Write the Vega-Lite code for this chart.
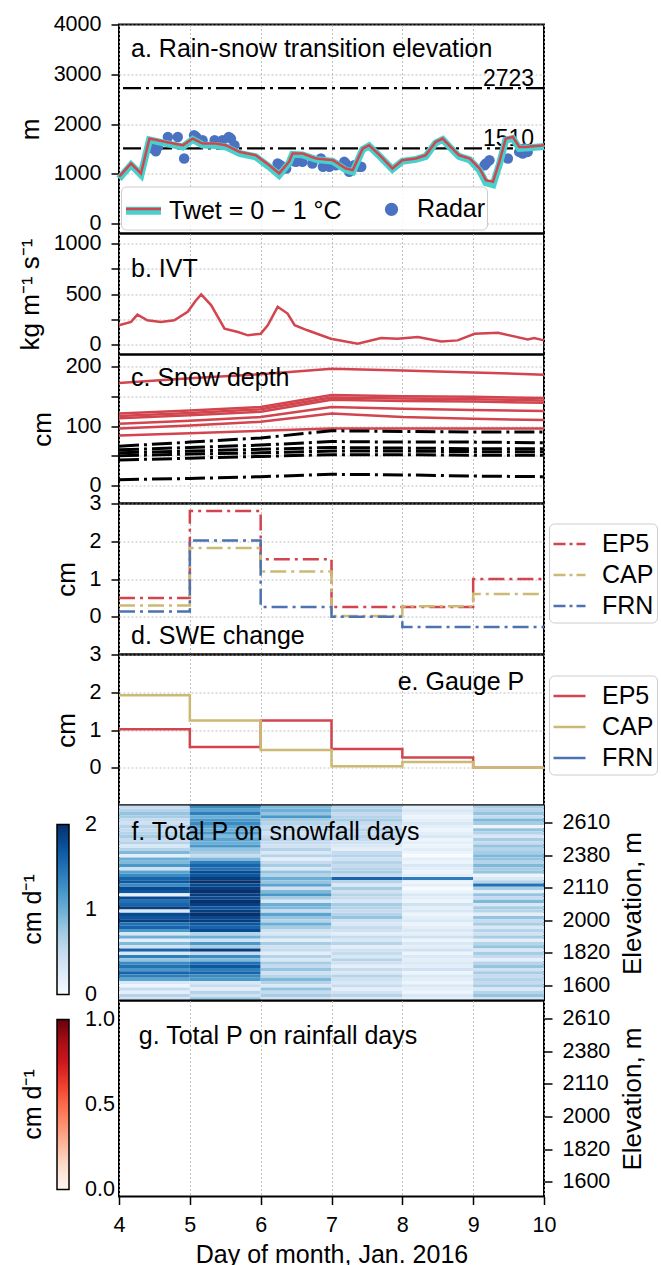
{
  "$schema": "https://vega.github.io/schema/vega-lite/v6.json",
  "background": "white",
  "padding": {"left": 16, "top": 12.5, "right": 0, "bottom": 5},
  "spacing": 0,
  "bounds": "flush",
  "config": {
    "font": "Liberation Sans",
    "view": {"stroke": "black", "strokeWidth": 2},
    "axis": {
      "labelFont": "Liberation Sans", "titleFont": "Liberation Sans",
      "labelFontSize": 21.5, "titleFontSize": 25, "titleFontWeight": "normal",
      "labelColor": "black", "titleColor": "black", "tickColor": "black",
      "tickSize": 8, "tickWidth": 1.5, "labelPadding": 10, "titlePadding": 10,
      "domain": false, "gridColor": "#b0b0b0", "gridDash": [2, 2], "gridWidth": 0.8
    },
    "axisY": {"titleFontSize": 26},
    "legend": {
      "labelFont": "Liberation Sans", "titleFont": "Liberation Sans",
      "labelFontSize": 25, "labelColor": "black", "labelLimit": 400,
      "titleFontSize": 25, "titleFontWeight": "normal", "titleColor": "black"
    },
    "text": {"font": "Liberation Sans", "fontSize": 25, "color": "black"}
  },
  "vconcat": [
    {
      "width": 425, "height": 209,
      "layer": [
        {
          "data": {"values": [{"z": 2723}, {"z": 1510}]},
          "layer": [
            {
              "mark": {"type": "rule", "color": "black", "strokeWidth": 2.2, "strokeDash": [18, 5, 3, 5]},
              "encoding": {
                "y": {"field": "z", "type": "quantitative", "scale": {"domain": [-200, 4000], "nice": false, "zero": false}, "axis": {"values": [0, 1000, 2000, 3000, 4000], "format": "d", "title": "m", "grid": true}}
              }
            },
            {
              "mark": {"type": "text", "align": "right", "baseline": "alphabetic", "dy": -2, "fontSize": 23},
              "encoding": {
                "x": {"datum": 9.86, "type": "quantitative", "scale": {"domain": [4, 10], "nice": false, "zero": false}, "axis": {"values": [4, 5, 6, 7, 8, 9, 10], "labels": false, "ticks": false, "title": null, "grid": true}},
                "y": {"field": "z", "type": "quantitative", "scale": {"domain": [-200, 4000], "nice": false, "zero": false}, "axis": {"values": [0, 1000, 2000, 3000, 4000], "format": "d", "title": "m", "grid": true}},
                "text": {"field": "z", "type": "nominal"}
              }
            }
          ]
        },
        {
          "data": {"values": [
            {"day": 4.48, "z": 1507}, {"day": 4.52, "z": 1453}, {"day": 4.55, "z": 1540}, {"day": 4.69, "z": 1740},
            {"day": 4.83, "z": 1740}, {"day": 4.92, "z": 1307}, {"day": 5.06, "z": 1773}, {"day": 5.09, "z": 1740},
            {"day": 5.18, "z": 1673}, {"day": 5.35, "z": 1673}, {"day": 5.37, "z": 1607}, {"day": 5.46, "z": 1673},
            {"day": 5.55, "z": 1740}, {"day": 5.58, "z": 1707}, {"day": 5.63, "z": 1573}, {"day": 6.24, "z": 1207},
            {"day": 6.28, "z": 1173}, {"day": 6.36, "z": 1107}, {"day": 6.47, "z": 1253}, {"day": 6.50, "z": 1240},
            {"day": 6.59, "z": 1240}, {"day": 6.73, "z": 1207}, {"day": 6.85, "z": 1307}, {"day": 6.88, "z": 1140},
            {"day": 6.97, "z": 1140}, {"day": 7.06, "z": 1173}, {"day": 7.18, "z": 1240}, {"day": 7.20, "z": 1207},
            {"day": 7.25, "z": 1040}, {"day": 7.32, "z": 1173}, {"day": 7.39, "z": 1140}, {"day": 7.42, "z": 1140},
            {"day": 9.16, "z": 1173}, {"day": 9.18, "z": 1207}, {"day": 9.23, "z": 1273}, {"day": 9.49, "z": 1307},
            {"day": 9.65, "z": 1440}, {"day": 9.70, "z": 1407}, {"day": 9.72, "z": 1507}, {"day": 9.77, "z": 1440}
          ]},
          "mark": {"type": "circle", "size": 110, "opacity": 1},
          "encoding": {
            "x": {"field": "day", "type": "quantitative", "scale": {"domain": [4, 10], "nice": false, "zero": false}, "axis": {"values": [4, 5, 6, 7, 8, 9, 10], "labels": false, "ticks": false, "title": null, "grid": true}},
            "y": {"field": "z", "type": "quantitative", "scale": {"domain": [-200, 4000], "nice": false, "zero": false}, "axis": {"values": [0, 1000, 2000, 3000, 4000], "format": "d", "title": "m", "grid": true}},
            "color": {"datum": "Radar"}
          }
        },
        {
          "data": {"values": [
            {"day": 4.00, "teal": 900, "red": 940}, {"day": 4.17, "teal": 1180, "red": 1207}, {"day": 4.31, "teal": 980, "red": 1007},
            {"day": 4.43, "teal": 1680, "red": 1707}, {"day": 4.66, "teal": 1610, "red": 1640}, {"day": 4.90, "teal": 1540, "red": 1573},
            {"day": 5.04, "teal": 1690, "red": 1707}, {"day": 5.18, "teal": 1580, "red": 1607}, {"day": 5.37, "teal": 1570, "red": 1607},
            {"day": 5.51, "teal": 1540, "red": 1573}, {"day": 5.70, "teal": 1410, "red": 1440}, {"day": 5.93, "teal": 1340, "red": 1373},
            {"day": 6.12, "teal": 1140, "red": 1173}, {"day": 6.26, "teal": 970, "red": 1007}, {"day": 6.40, "teal": 1220, "red": 1240},
            {"day": 6.45, "teal": 1390, "red": 1407}, {"day": 6.59, "teal": 1380, "red": 1407}, {"day": 6.78, "teal": 1290, "red": 1307},
            {"day": 7.02, "teal": 1250, "red": 1273}, {"day": 7.20, "teal": 1080, "red": 1107}, {"day": 7.30, "teal": 1040, "red": 1073},
            {"day": 7.44, "teal": 1490, "red": 1507}, {"day": 7.53, "teal": 1560, "red": 1573}, {"day": 7.68, "teal": 1350, "red": 1373},
            {"day": 7.86, "teal": 1090, "red": 1107}, {"day": 8.00, "teal": 1250, "red": 1273}, {"day": 8.19, "teal": 1290, "red": 1307},
            {"day": 8.33, "teal": 1350, "red": 1373}, {"day": 8.47, "teal": 1620, "red": 1640}, {"day": 8.57, "teal": 1690, "red": 1707},
            {"day": 8.66, "teal": 1550, "red": 1573}, {"day": 8.80, "teal": 1350, "red": 1373}, {"day": 8.95, "teal": 1280, "red": 1307},
            {"day": 9.09, "teal": 1070, "red": 1107}, {"day": 9.18, "teal": 820, "red": 873}, {"day": 9.28, "teal": 780, "red": 840},
            {"day": 9.37, "teal": 1190, "red": 1240}, {"day": 9.46, "teal": 1680, "red": 1707}, {"day": 9.56, "teal": 1710, "red": 1740},
            {"day": 9.65, "teal": 1510, "red": 1540}, {"day": 9.75, "teal": 1520, "red": 1540}, {"day": 10.00, "teal": 1550, "red": 1573}
          ]},
          "layer": [
            {
              "mark": {"type": "line", "strokeWidth": 7},
              "encoding": {
                "x": {"field": "day", "type": "quantitative", "scale": {"domain": [4, 10], "nice": false, "zero": false}, "axis": {"values": [4, 5, 6, 7, 8, 9, 10], "labels": false, "ticks": false, "title": null, "grid": true}},
                "y": {"field": "teal", "type": "quantitative", "scale": {"domain": [-200, 4000], "nice": false, "zero": false}, "axis": {"values": [0, 1000, 2000, 3000, 4000], "format": "d", "title": "m", "grid": true}},
                "color": {
                  "datum": "Twet = 0 − 1 °C",
                  "scale": {"domain": ["Twet = 0 − 1 °C", "Radar"], "range": ["#48d1cc", "#4a72c0"]},
                  "legend": {
                    "orient": "none", "legendX": 2, "legendY": 162, "direction": "horizontal", "columns": 2,
                    "title": null, "padding": 1, "columnPadding": 28, "labelOffset": 4,
                    "fillColor": "rgba(255,255,255,0.85)", "strokeColor": "#cccccc", "cornerRadius": 5,
                    "encode": {"symbols": {"update": {
                      "shape": [{"test": "datum.value === 'Radar'", "value": "M0.15,0 A0.15,0.15 0 1,1 -0.15,0 A0.15,0.15 0 1,1 0.15,0 Z"}, {"value": "stroke"}],
                      "size": {"value": 1225},
                      "strokeWidth": {"value": 8},
                      "fill": [{"test": "datum.value === 'Radar'", "value": "#4a72c0"}, {"value": "transparent"}],
                      "stroke": [{"test": "datum.value === 'Radar'", "value": "transparent"}, {"value": "#48d1cc"}],
                      "opacity": {"value": 1}
                    }}}
                  }
                }
              }
            },
            {
              "mark": {"type": "line", "color": "#d2454f", "strokeWidth": 2.5},
              "encoding": {
                "x": {"field": "day", "type": "quantitative", "scale": {"domain": [4, 10], "nice": false, "zero": false}, "axis": {"values": [4, 5, 6, 7, 8, 9, 10], "labels": false, "ticks": false, "title": null, "grid": true}},
                "y": {"field": "red", "type": "quantitative", "scale": {"domain": [-200, 4000], "nice": false, "zero": false}, "axis": {"values": [0, 1000, 2000, 3000, 4000], "format": "d", "title": "m", "grid": true}},
                "strokeDash": {
                  "datum": "Twet = 0 − 1 °C",
                  "scale": {"domain": ["Twet = 0 − 1 °C"], "range": [[1, 0]]},
                  "legend": {
                    "orient": "none", "legendX": 2, "legendY": 162, "direction": "horizontal", "columns": 2,
                    "title": null, "padding": 3.5, "labelOffset": 4, "labelExpr": "''",
                    "symbolType": "stroke", "symbolSize": 1225, "symbolStrokeWidth": 2.5, "symbolStrokeColor": "#d2454f",
                    "encode": {"symbols": {"update": {"stroke": {"value": "#d2454f"}, "strokeWidth": {"value": 2.5}, "size": {"value": 1225}, "opacity": {"value": 1}}}}
                  }
                }
              }
            }
          ]
        },
        {
          "data": {"values": [{"t": "a. Rain-snow transition elevation"}]},
          "mark": {"type": "text", "align": "left", "baseline": "alphabetic"},
          "encoding": {
            "x": {"datum": 4.17, "type": "quantitative", "scale": {"domain": [4, 10], "nice": false, "zero": false}, "axis": {"values": [4, 5, 6, 7, 8, 9, 10], "labels": false, "ticks": false, "title": null, "grid": true}},
            "y": {"datum": 3350, "type": "quantitative", "scale": {"domain": [-200, 4000], "nice": false, "zero": false}, "axis": {"values": [0, 1000, 2000, 3000, 4000], "format": "d", "title": "m", "grid": true}},
            "text": {"field": "t"}
          }
        }
      ]
    },
    {
      "width": 425, "height": 121,
      "layer": [
        {
          "data": {"values": [
            {"day": 4.00, "v": 190}, {"day": 4.17, "v": 223}, {"day": 4.26, "v": 296}, {"day": 4.40, "v": 240},
            {"day": 4.59, "v": 223}, {"day": 4.78, "v": 240}, {"day": 4.97, "v": 323}, {"day": 5.08, "v": 430},
            {"day": 5.16, "v": 496}, {"day": 5.30, "v": 390}, {"day": 5.49, "v": 156}, {"day": 5.68, "v": 123},
            {"day": 5.82, "v": 90}, {"day": 6.00, "v": 106}, {"day": 6.10, "v": 190}, {"day": 6.24, "v": 373},
            {"day": 6.38, "v": 306}, {"day": 6.48, "v": 190}, {"day": 6.66, "v": 140}, {"day": 6.99, "v": 56},
            {"day": 7.37, "v": 6}, {"day": 7.70, "v": 63}, {"day": 7.93, "v": 56}, {"day": 8.22, "v": 73},
            {"day": 8.55, "v": 30}, {"day": 8.78, "v": 40}, {"day": 9.02, "v": 106}, {"day": 9.35, "v": 116},
            {"day": 9.77, "v": 50}, {"day": 9.86, "v": 63}, {"day": 10.00, "v": 40}
          ]},
          "mark": {"type": "line", "color": "#d2454f", "strokeWidth": 2.5},
          "encoding": {
            "x": {"field": "day", "type": "quantitative", "scale": {"domain": [4, 10], "nice": false, "zero": false}, "axis": {"values": [4, 5, 6, 7, 8, 9, 10], "labels": false, "ticks": false, "title": null, "grid": true}},
            "y": {"field": "v", "type": "quantitative", "scale": {"domain": [-100, 1100], "nice": false, "zero": false}, "axis": {"values": [0, 250, 500, 750, 1000], "format": "d", "labelExpr": "datum.value % 500 === 0 ? datum.label : ''", "title": "kg m⁻¹ s⁻¹", "grid": true}}
          }
        },
        {
          "data": {"values": [{"t": "b. IVT"}]},
          "mark": {"type": "text", "align": "left", "baseline": "alphabetic"},
          "encoding": {
            "x": {"datum": 4.17, "type": "quantitative", "scale": {"domain": [4, 10], "nice": false, "zero": false}, "axis": {"values": [4, 5, 6, 7, 8, 9, 10], "labels": false, "ticks": false, "title": null, "grid": true}},
            "y": {"datum": 673, "type": "quantitative", "scale": {"domain": [-100, 1100], "nice": false, "zero": false}, "axis": {"values": [0, 250, 500, 750, 1000], "format": "d", "labelExpr": "datum.value % 500 === 0 ? datum.label : ''", "title": "kg m⁻¹ s⁻¹", "grid": true}},
            "text": {"field": "t"}
          }
        }
      ]
    },
    {
      "width": 425, "height": 149,
      "layer": [
        {
          "data": {"values": [
            {"id": "R1", "k": "r", "day": 4, "cm": 172}, {"id": "R1", "k": "r", "day": 5, "cm": 180}, {"id": "R1", "k": "r", "day": 6, "cm": 187}, {"id": "R1", "k": "r", "day": 7, "cm": 196}, {"id": "R1", "k": "r", "day": 8, "cm": 193}, {"id": "R1", "k": "r", "day": 9, "cm": 190}, {"id": "R1", "k": "r", "day": 10, "cm": 186},
            {"id": "R2", "k": "r", "day": 4, "cm": 121}, {"id": "R2", "k": "r", "day": 5, "cm": 126}, {"id": "R2", "k": "r", "day": 6, "cm": 132}, {"id": "R2", "k": "r", "day": 7, "cm": 152}, {"id": "R2", "k": "r", "day": 8, "cm": 150}, {"id": "R2", "k": "r", "day": 9, "cm": 149}, {"id": "R2", "k": "r", "day": 10, "cm": 147},
            {"id": "R3", "k": "r", "day": 4, "cm": 117}, {"id": "R3", "k": "r", "day": 5, "cm": 122}, {"id": "R3", "k": "r", "day": 6, "cm": 128}, {"id": "R3", "k": "r", "day": 7, "cm": 148}, {"id": "R3", "k": "r", "day": 8, "cm": 146}, {"id": "R3", "k": "r", "day": 9, "cm": 145}, {"id": "R3", "k": "r", "day": 10, "cm": 143},
            {"id": "R4", "k": "r", "day": 4, "cm": 113}, {"id": "R4", "k": "r", "day": 5, "cm": 118}, {"id": "R4", "k": "r", "day": 6, "cm": 124}, {"id": "R4", "k": "r", "day": 7, "cm": 144}, {"id": "R4", "k": "r", "day": 8, "cm": 142}, {"id": "R4", "k": "r", "day": 9, "cm": 141}, {"id": "R4", "k": "r", "day": 10, "cm": 139},
            {"id": "R5", "k": "r", "day": 4, "cm": 104}, {"id": "R5", "k": "r", "day": 5, "cm": 109}, {"id": "R5", "k": "r", "day": 6, "cm": 115}, {"id": "R5", "k": "r", "day": 7, "cm": 132}, {"id": "R5", "k": "r", "day": 8, "cm": 129}, {"id": "R5", "k": "r", "day": 9, "cm": 127}, {"id": "R5", "k": "r", "day": 10, "cm": 125},
            {"id": "R6", "k": "r", "day": 4, "cm": 96}, {"id": "R6", "k": "r", "day": 5, "cm": 101}, {"id": "R6", "k": "r", "day": 6, "cm": 107}, {"id": "R6", "k": "r", "day": 7, "cm": 121}, {"id": "R6", "k": "r", "day": 8, "cm": 115}, {"id": "R6", "k": "r", "day": 9, "cm": 112}, {"id": "R6", "k": "r", "day": 10, "cm": 110},
            {"id": "R7", "k": "r", "day": 4, "cm": 84}, {"id": "R7", "k": "r", "day": 5, "cm": 88}, {"id": "R7", "k": "r", "day": 6, "cm": 92}, {"id": "R7", "k": "r", "day": 7, "cm": 96}, {"id": "R7", "k": "r", "day": 8, "cm": 96}, {"id": "R7", "k": "r", "day": 9, "cm": 96}, {"id": "R7", "k": "r", "day": 10, "cm": 96},
            {"id": "B1", "k": "b", "day": 4, "cm": 66}, {"id": "B1", "k": "b", "day": 5, "cm": 73}, {"id": "B1", "k": "b", "day": 6, "cm": 80}, {"id": "B1", "k": "b", "day": 7, "cm": 92}, {"id": "B1", "k": "b", "day": 8, "cm": 91}, {"id": "B1", "k": "b", "day": 9, "cm": 90}, {"id": "B1", "k": "b", "day": 10, "cm": 90},
            {"id": "B2", "k": "b", "day": 4, "cm": 60}, {"id": "B2", "k": "b", "day": 5, "cm": 64}, {"id": "B2", "k": "b", "day": 6, "cm": 68}, {"id": "B2", "k": "b", "day": 7, "cm": 74}, {"id": "B2", "k": "b", "day": 8, "cm": 73}, {"id": "B2", "k": "b", "day": 9, "cm": 73}, {"id": "B2", "k": "b", "day": 10, "cm": 72},
            {"id": "B3", "k": "b", "day": 4, "cm": 55}, {"id": "B3", "k": "b", "day": 5, "cm": 58}, {"id": "B3", "k": "b", "day": 6, "cm": 61}, {"id": "B3", "k": "b", "day": 7, "cm": 64}, {"id": "B3", "k": "b", "day": 8, "cm": 63}, {"id": "B3", "k": "b", "day": 9, "cm": 62}, {"id": "B3", "k": "b", "day": 10, "cm": 62},
            {"id": "B4", "k": "b", "day": 4, "cm": 50}, {"id": "B4", "k": "b", "day": 5, "cm": 53}, {"id": "B4", "k": "b", "day": 6, "cm": 55}, {"id": "B4", "k": "b", "day": 7, "cm": 58}, {"id": "B4", "k": "b", "day": 8, "cm": 58}, {"id": "B4", "k": "b", "day": 9, "cm": 57}, {"id": "B4", "k": "b", "day": 10, "cm": 57},
            {"id": "B5", "k": "b", "day": 4, "cm": 43}, {"id": "B5", "k": "b", "day": 5, "cm": 46}, {"id": "B5", "k": "b", "day": 6, "cm": 49}, {"id": "B5", "k": "b", "day": 7, "cm": 52}, {"id": "B5", "k": "b", "day": 8, "cm": 52}, {"id": "B5", "k": "b", "day": 9, "cm": 51}, {"id": "B5", "k": "b", "day": 10, "cm": 51},
            {"id": "B6", "k": "b", "day": 4, "cm": 10}, {"id": "B6", "k": "b", "day": 5, "cm": 12}, {"id": "B6", "k": "b", "day": 6, "cm": 15}, {"id": "B6", "k": "b", "day": 7, "cm": 19}, {"id": "B6", "k": "b", "day": 8, "cm": 18}, {"id": "B6", "k": "b", "day": 9, "cm": 16}, {"id": "B6", "k": "b", "day": 10, "cm": 15}
          ]},
          "layer": [
            {
              "transform": [{"filter": "datum.k === 'r'"}],
              "mark": {"type": "line", "color": "#d2454f", "strokeWidth": 2.5},
              "encoding": {
                "x": {"field": "day", "type": "quantitative", "scale": {"domain": [4, 10], "nice": false, "zero": false}, "axis": {"values": [4, 5, 6, 7, 8, 9, 10], "labels": false, "ticks": false, "title": null, "grid": true}},
                "y": {"field": "cm", "type": "quantitative", "scale": {"domain": [-30, 220], "nice": false, "zero": false}, "axis": {"values": [0, 50, 100, 150, 200], "labelExpr": "datum.value % 100 === 0 ? datum.label : ''", "title": "cm", "grid": true}},
                "detail": {"field": "id"}
              }
            },
            {
              "transform": [{"filter": "datum.k === 'b'"}],
              "mark": {"type": "line", "color": "black", "strokeWidth": 3, "strokeDash": [20, 5, 3, 5]},
              "encoding": {
                "x": {"field": "day", "type": "quantitative", "scale": {"domain": [4, 10], "nice": false, "zero": false}, "axis": {"values": [4, 5, 6, 7, 8, 9, 10], "labels": false, "ticks": false, "title": null, "grid": true}},
                "y": {"field": "cm", "type": "quantitative", "scale": {"domain": [-30, 220], "nice": false, "zero": false}, "axis": {"values": [0, 50, 100, 150, 200], "labelExpr": "datum.value % 100 === 0 ? datum.label : ''", "title": "cm", "grid": true}},
                "detail": {"field": "id"}
              }
            }
          ]
        },
        {
          "data": {"values": [{"t": "c. Snow depth"}]},
          "mark": {"type": "text", "align": "left", "baseline": "alphabetic"},
          "encoding": {
            "x": {"datum": 4.17, "type": "quantitative", "scale": {"domain": [4, 10], "nice": false, "zero": false}, "axis": {"values": [4, 5, 6, 7, 8, 9, 10], "labels": false, "ticks": false, "title": null, "grid": true}},
            "y": {"datum": 167, "type": "quantitative", "scale": {"domain": [-30, 220], "nice": false, "zero": false}, "axis": {"values": [0, 50, 100, 150, 200], "labelExpr": "datum.value % 100 === 0 ? datum.label : ''", "title": "cm", "grid": true}},
            "text": {"field": "t"}
          }
        }
      ]
    },
    {
      "width": 425, "height": 151,
      "layer": [
        {
          "data": {"values": [
            {"site": "EP5", "day": 4, "v": 0.5}, {"site": "EP5", "day": 5, "v": 2.8}, {"site": "EP5", "day": 6, "v": 1.52}, {"site": "EP5", "day": 7, "v": 0.26}, {"site": "EP5", "day": 8, "v": 0.26}, {"site": "EP5", "day": 9, "v": 1.0}, {"site": "EP5", "day": 10, "v": 1.0},
            {"site": "CAP", "day": 4, "v": 0.3}, {"site": "CAP", "day": 5, "v": 1.82}, {"site": "CAP", "day": 6, "v": 1.2}, {"site": "CAP", "day": 7, "v": 0.02}, {"site": "CAP", "day": 8, "v": 0.28}, {"site": "CAP", "day": 9, "v": 0.6}, {"site": "CAP", "day": 10, "v": 0.6},
            {"site": "FRN", "day": 4, "v": 0.14}, {"site": "FRN", "day": 5, "v": 2.02}, {"site": "FRN", "day": 6, "v": 0.26}, {"site": "FRN", "day": 7, "v": 0.0}, {"site": "FRN", "day": 8, "v": -0.27}, {"site": "FRN", "day": 9, "v": -0.27}, {"site": "FRN", "day": 10, "v": -0.27}
          ]},
          "mark": {"type": "line", "interpolate": "step-after", "strokeWidth": 2.5, "strokeDash": [16, 5, 3, 5]},
          "encoding": {
            "x": {"field": "day", "type": "quantitative", "scale": {"domain": [4, 10], "nice": false, "zero": false}, "axis": {"values": [4, 5, 6, 7, 8, 9, 10], "labels": false, "ticks": false, "title": null, "grid": true}},
            "y": {"field": "v", "type": "quantitative", "scale": {"domain": [-1, 3], "nice": false, "zero": false}, "axis": {"values": [0, 1, 2, 3], "title": "cm", "grid": true}},
            "color": {
              "field": "site", "type": "nominal",
              "scale": {"domain": ["EP5", "CAP", "FRN"], "range": ["#d2454f", "#ccb974", "#4c72b0"]},
              "legend": {
                "orient": "none", "legendX": 430, "legendY": 20, "title": null, "padding": 3, "labelOffset": 15,
                "rowPadding": 0, "symbolType": "stroke", "symbolSize": 1024, "symbolStrokeWidth": 2.5, "symbolDash": [12, 4, 3, 4],
                "fillColor": "white", "strokeColor": "#cccccc", "cornerRadius": 5
              }
            }
          }
        },
        {
          "data": {"values": [{"t": "d. SWE change"}]},
          "mark": {"type": "text", "align": "left", "baseline": "alphabetic"},
          "encoding": {
            "x": {"datum": 4.17, "type": "quantitative", "scale": {"domain": [4, 10], "nice": false, "zero": false}, "axis": {"values": [4, 5, 6, 7, 8, 9, 10], "labels": false, "ticks": false, "title": null, "grid": true}},
            "y": {"datum": -0.71, "type": "quantitative", "scale": {"domain": [-1, 3], "nice": false, "zero": false}, "axis": {"values": [0, 1, 2, 3], "title": "cm", "grid": true}},
            "text": {"field": "t"}
          }
        }
      ]
    },
    {
      "width": 425, "height": 151,
      "layer": [
        {
          "data": {"values": [
            {"site": "EP5", "day": 4, "v": 1.02}, {"site": "EP5", "day": 5, "v": 0.55}, {"site": "EP5", "day": 6, "v": 1.25}, {"site": "EP5", "day": 7, "v": 0.5}, {"site": "EP5", "day": 8, "v": 0.27}, {"site": "EP5", "day": 9, "v": 0.0}, {"site": "EP5", "day": 10, "v": 0.0},
            {"site": "CAP", "day": 4, "v": 1.92}, {"site": "CAP", "day": 5, "v": 1.25}, {"site": "CAP", "day": 6, "v": 0.47}, {"site": "CAP", "day": 7, "v": 0.04}, {"site": "CAP", "day": 8, "v": 0.15}, {"site": "CAP", "day": 9, "v": 0.0}, {"site": "CAP", "day": 10, "v": 0.0}
          ]},
          "mark": {"type": "line", "interpolate": "step-after", "strokeWidth": 2.5},
          "encoding": {
            "x": {"field": "day", "type": "quantitative", "scale": {"domain": [4, 10], "nice": false, "zero": false}, "axis": {"values": [4, 5, 6, 7, 8, 9, 10], "labels": false, "ticks": false, "title": null, "grid": true}},
            "y": {"field": "v", "type": "quantitative", "scale": {"domain": [-1, 3], "nice": false, "zero": false}, "axis": {"values": [0, 1, 2, 3], "title": "cm", "grid": true}},
            "color": {
              "field": "site", "type": "nominal",
              "scale": {"domain": ["EP5", "CAP", "FRN"], "range": ["#d2454f", "#ccb974", "#4c72b0"]},
              "legend": {
                "orient": "none", "legendX": 430, "legendY": 21, "title": null, "padding": 3, "labelOffset": 15,
                "rowPadding": 0, "symbolType": "stroke", "symbolSize": 1024, "symbolStrokeWidth": 2.5,
                "fillColor": "white", "strokeColor": "#cccccc", "cornerRadius": 5
              }
            }
          }
        },
        {
          "data": {"values": [{"t": "e. Gauge P"}]},
          "mark": {"type": "text", "align": "right", "baseline": "alphabetic"},
          "encoding": {
            "x": {"datum": 9.72, "type": "quantitative", "scale": {"domain": [4, 10], "nice": false, "zero": false}, "axis": {"values": [4, 5, 6, 7, 8, 9, 10], "labels": false, "ticks": false, "title": null, "grid": true}},
            "y": {"datum": 2.07, "type": "quantitative", "scale": {"domain": [-1, 3], "nice": false, "zero": false}, "axis": {"values": [0, 1, 2, 3], "title": "cm", "grid": true}},
            "text": {"field": "t"}
          }
        }
      ]
    },
    {
      "width": 425, "height": 195,
      "layer": [
        {
          "data": {"values": [
            {"d":4,"r":59,"p":0.5},{"d":4,"r":58,"p":0.6},{"d":4,"r":57,"p":0.8},{"d":4,"r":56,"p":0.7},{"d":4,"r":55,"p":0.5},{"d":4,"r":54,"p":0.4},{"d":4,"r":53,"p":0.6},{"d":4,"r":52,"p":0.5},{"d":4,"r":51,"p":0.6},{"d":4,"r":50,"p":0.7},{"d":4,"r":49,"p":0.5},{"d":4,"r":48,"p":0.6},{"d":4,"r":47,"p":0.3},{"d":4,"r":46,"p":0.6},{"d":4,"r":45,"p":0.9},{"d":4,"r":44,"p":0.2},{"d":4,"r":43,"p":1.0},{"d":4,"r":42,"p":0.9},{"d":4,"r":41,"p":1.2},{"d":4,"r":40,"p":0.4},{"d":4,"r":39,"p":1.1},{"d":4,"r":38,"p":1.3},{"d":4,"r":37,"p":1.6},{"d":4,"r":36,"p":1.7},{"d":4,"r":35,"p":1.3},{"d":4,"r":34,"p":1.8},{"d":4,"r":33,"p":1.7},{"d":4,"r":32,"p":0.2},{"d":4,"r":31,"p":1.8},{"d":4,"r":30,"p":1.5},{"d":4,"r":29,"p":1.6},{"d":4,"r":28,"p":1.9},{"d":4,"r":27,"p":0.3},{"d":4,"r":26,"p":1.8},{"d":4,"r":25,"p":1.7},{"d":4,"r":24,"p":1.9},{"d":4,"r":23,"p":1.5},{"d":4,"r":22,"p":1.6},{"d":4,"r":21,"p":1.2},{"d":4,"r":20,"p":0.3},{"d":4,"r":19,"p":1.0},{"d":4,"r":18,"p":0.2},{"d":4,"r":17,"p":0.9},{"d":4,"r":16,"p":0.4},{"d":4,"r":15,"p":1.6},{"d":4,"r":14,"p":0.3},{"d":4,"r":13,"p":1.4},{"d":4,"r":12,"p":0.8},{"d":4,"r":11,"p":1.3},{"d":4,"r":10,"p":1.5},{"d":4,"r":9,"p":1.2},{"d":4,"r":8,"p":1.6},{"d":4,"r":7,"p":1.4},{"d":4,"r":6,"p":1.1},{"d":4,"r":5,"p":0.3},{"d":4,"r":4,"p":0.1},{"d":4,"r":3,"p":0.5},{"d":4,"r":2,"p":0.2},{"d":4,"r":1,"p":0.6},{"d":4,"r":0,"p":0.4},
            {"d":5,"r":59,"p":1.3},{"d":5,"r":58,"p":1.1},{"d":5,"r":57,"p":1.4},{"d":5,"r":56,"p":1.0},{"d":5,"r":55,"p":1.2},{"d":5,"r":54,"p":1.3},{"d":5,"r":53,"p":1.1},{"d":5,"r":52,"p":1.0},{"d":5,"r":51,"p":1.2},{"d":5,"r":50,"p":0.9},{"d":5,"r":49,"p":1.1},{"d":5,"r":48,"p":1.0},{"d":5,"r":47,"p":1.2},{"d":5,"r":46,"p":0.8},{"d":5,"r":45,"p":0.7},{"d":5,"r":44,"p":0.5},{"d":5,"r":43,"p":0.9},{"d":5,"r":42,"p":1.4},{"d":5,"r":41,"p":1.6},{"d":5,"r":40,"p":1.5},{"d":5,"r":39,"p":1.8},{"d":5,"r":38,"p":1.7},{"d":5,"r":37,"p":1.9},{"d":5,"r":36,"p":2.0},{"d":5,"r":35,"p":1.8},{"d":5,"r":34,"p":1.9},{"d":5,"r":33,"p":2.0},{"d":5,"r":32,"p":1.9},{"d":5,"r":31,"p":1.8},{"d":5,"r":30,"p":2.0},{"d":5,"r":29,"p":1.9},{"d":5,"r":28,"p":1.7},{"d":5,"r":27,"p":1.9},{"d":5,"r":26,"p":2.0},{"d":5,"r":25,"p":1.8},{"d":5,"r":24,"p":1.9},{"d":5,"r":23,"p":1.7},{"d":5,"r":22,"p":1.6},{"d":5,"r":21,"p":1.8},{"d":5,"r":20,"p":0.6},{"d":5,"r":19,"p":1.0},{"d":5,"r":18,"p":0.4},{"d":5,"r":17,"p":1.2},{"d":5,"r":16,"p":0.7},{"d":5,"r":15,"p":1.9},{"d":5,"r":14,"p":0.5},{"d":5,"r":13,"p":1.3},{"d":5,"r":12,"p":0.9},{"d":5,"r":11,"p":1.5},{"d":5,"r":10,"p":1.7},{"d":5,"r":9,"p":1.4},{"d":5,"r":8,"p":1.6},{"d":5,"r":7,"p":1.3},{"d":5,"r":6,"p":1.2},{"d":5,"r":5,"p":0.3},{"d":5,"r":4,"p":0.5},{"d":5,"r":3,"p":0.2},{"d":5,"r":2,"p":0.6},{"d":5,"r":1,"p":0.4},{"d":5,"r":0,"p":0.8},
            {"d":6,"r":59,"p":0.9},{"d":6,"r":58,"p":1.0},{"d":6,"r":57,"p":0.8},{"d":6,"r":56,"p":1.2},{"d":6,"r":55,"p":0.7},{"d":6,"r":54,"p":0.6},{"d":6,"r":53,"p":0.5},{"d":6,"r":52,"p":0.6},{"d":6,"r":51,"p":0.4},{"d":6,"r":50,"p":0.5},{"d":6,"r":49,"p":0.6},{"d":6,"r":48,"p":0.5},{"d":6,"r":47,"p":0.4},{"d":6,"r":46,"p":0.6},{"d":6,"r":45,"p":0.3},{"d":6,"r":44,"p":0.6},{"d":6,"r":43,"p":0.2},{"d":6,"r":42,"p":0.5},{"d":6,"r":41,"p":0.7},{"d":6,"r":40,"p":0.3},{"d":6,"r":39,"p":0.8},{"d":6,"r":38,"p":0.6},{"d":6,"r":37,"p":1.0},{"d":6,"r":36,"p":0.8},{"d":6,"r":35,"p":1.1},{"d":6,"r":34,"p":0.4},{"d":6,"r":33,"p":0.9},{"d":6,"r":32,"p":1.2},{"d":6,"r":31,"p":0.7},{"d":6,"r":30,"p":0.3},{"d":6,"r":29,"p":1.0},{"d":6,"r":28,"p":0.9},{"d":6,"r":27,"p":0.5},{"d":6,"r":26,"p":1.1},{"d":6,"r":25,"p":0.8},{"d":6,"r":24,"p":0.6},{"d":6,"r":23,"p":1.0},{"d":6,"r":22,"p":0.7},{"d":6,"r":21,"p":0.4},{"d":6,"r":20,"p":0.3},{"d":6,"r":19,"p":0.6},{"d":6,"r":18,"p":0.2},{"d":6,"r":17,"p":0.7},{"d":6,"r":16,"p":0.4},{"d":6,"r":15,"p":0.5},{"d":6,"r":14,"p":0.2},{"d":6,"r":13,"p":0.6},{"d":6,"r":12,"p":0.3},{"d":6,"r":11,"p":0.7},{"d":6,"r":10,"p":0.5},{"d":6,"r":9,"p":0.8},{"d":6,"r":8,"p":0.4},{"d":6,"r":7,"p":0.6},{"d":6,"r":6,"p":0.9},{"d":6,"r":5,"p":0.6},{"d":6,"r":4,"p":0.3},{"d":6,"r":3,"p":0.8},{"d":6,"r":2,"p":0.5},{"d":6,"r":1,"p":0.7},{"d":6,"r":0,"p":0.4},
            {"d":7,"r":59,"p":0.6},{"d":7,"r":58,"p":0.7},{"d":7,"r":57,"p":0.5},{"d":7,"r":56,"p":0.6},{"d":7,"r":55,"p":0.7},{"d":7,"r":54,"p":0.5},{"d":7,"r":53,"p":0.4},{"d":7,"r":52,"p":0.6},{"d":7,"r":51,"p":0.5},{"d":7,"r":50,"p":0.6},{"d":7,"r":49,"p":0.5},{"d":7,"r":48,"p":0.4},{"d":7,"r":47,"p":0.3},{"d":7,"r":46,"p":0.2},{"d":7,"r":45,"p":0.5},{"d":7,"r":44,"p":0.6},{"d":7,"r":43,"p":0.4},{"d":7,"r":42,"p":0.6},{"d":7,"r":41,"p":0.5},{"d":7,"r":40,"p":0.6},{"d":7,"r":39,"p":0.7},{"d":7,"r":38,"p":0.5},{"d":7,"r":37,"p":1.6},{"d":7,"r":36,"p":0.6},{"d":7,"r":35,"p":0.3},{"d":7,"r":34,"p":0.7},{"d":7,"r":33,"p":0.4},{"d":7,"r":32,"p":0.6},{"d":7,"r":31,"p":0.5},{"d":7,"r":30,"p":0.3},{"d":7,"r":29,"p":0.7},{"d":7,"r":28,"p":0.6},{"d":7,"r":27,"p":0.5},{"d":7,"r":26,"p":0.6},{"d":7,"r":25,"p":0.8},{"d":7,"r":24,"p":0.4},{"d":7,"r":23,"p":0.3},{"d":7,"r":22,"p":0.5},{"d":7,"r":21,"p":0.4},{"d":7,"r":20,"p":0.2},{"d":7,"r":19,"p":0.5},{"d":7,"r":18,"p":0.3},{"d":7,"r":17,"p":0.6},{"d":7,"r":16,"p":0.2},{"d":7,"r":15,"p":0.4},{"d":7,"r":14,"p":0.5},{"d":7,"r":13,"p":0.3},{"d":7,"r":12,"p":0.6},{"d":7,"r":11,"p":0.4},{"d":7,"r":10,"p":0.2},{"d":7,"r":9,"p":0.5},{"d":7,"r":8,"p":0.3},{"d":7,"r":7,"p":0.6},{"d":7,"r":6,"p":0.4},{"d":7,"r":5,"p":0.3},{"d":7,"r":4,"p":0.5},{"d":7,"r":3,"p":0.2},{"d":7,"r":2,"p":0.4},{"d":7,"r":1,"p":0.6},{"d":7,"r":0,"p":0.3},
            {"d":8,"r":59,"p":0.2},{"d":8,"r":58,"p":0.3},{"d":8,"r":57,"p":0.2},{"d":8,"r":56,"p":0.1},{"d":8,"r":55,"p":0.2},{"d":8,"r":54,"p":0.3},{"d":8,"r":53,"p":0.2},{"d":8,"r":52,"p":0.1},{"d":8,"r":51,"p":0.2},{"d":8,"r":50,"p":0.3},{"d":8,"r":49,"p":0.1},{"d":8,"r":48,"p":0.2},{"d":8,"r":47,"p":0.1},{"d":8,"r":46,"p":0.2},{"d":8,"r":45,"p":0.1},{"d":8,"r":44,"p":0.0},{"d":8,"r":43,"p":0.2},{"d":8,"r":42,"p":0.1},{"d":8,"r":41,"p":0.3},{"d":8,"r":40,"p":0.2},{"d":8,"r":39,"p":0.1},{"d":8,"r":38,"p":0.2},{"d":8,"r":37,"p":1.4},{"d":8,"r":36,"p":0.1},{"d":8,"r":35,"p":0.2},{"d":8,"r":34,"p":0.0},{"d":8,"r":33,"p":0.1},{"d":8,"r":32,"p":0.3},{"d":8,"r":31,"p":0.2},{"d":8,"r":30,"p":0.1},{"d":8,"r":29,"p":0.4},{"d":8,"r":28,"p":0.2},{"d":8,"r":27,"p":0.3},{"d":8,"r":26,"p":0.1},{"d":8,"r":25,"p":0.2},{"d":8,"r":24,"p":0.3},{"d":8,"r":23,"p":0.1},{"d":8,"r":22,"p":0.2},{"d":8,"r":21,"p":0.3},{"d":8,"r":20,"p":0.2},{"d":8,"r":19,"p":0.4},{"d":8,"r":18,"p":0.1},{"d":8,"r":17,"p":0.3},{"d":8,"r":16,"p":0.2},{"d":8,"r":15,"p":0.4},{"d":8,"r":14,"p":0.1},{"d":8,"r":13,"p":0.3},{"d":8,"r":12,"p":0.2},{"d":8,"r":11,"p":0.3},{"d":8,"r":10,"p":0.2},{"d":8,"r":9,"p":0.4},{"d":8,"r":8,"p":0.1},{"d":8,"r":7,"p":0.3},{"d":8,"r":6,"p":0.2},{"d":8,"r":5,"p":0.1},{"d":8,"r":4,"p":0.3},{"d":8,"r":3,"p":0.2},{"d":8,"r":2,"p":0.1},{"d":8,"r":1,"p":0.3},{"d":8,"r":0,"p":0.2},
            {"d":9,"r":59,"p":0.7},{"d":9,"r":58,"p":0.6},{"d":9,"r":57,"p":0.8},{"d":9,"r":56,"p":0.5},{"d":9,"r":55,"p":0.9},{"d":9,"r":54,"p":0.7},{"d":9,"r":53,"p":0.1},{"d":9,"r":52,"p":0.8},{"d":9,"r":51,"p":0.6},{"d":9,"r":50,"p":0.3},{"d":9,"r":49,"p":0.7},{"d":9,"r":48,"p":0.5},{"d":9,"r":47,"p":0.8},{"d":9,"r":46,"p":0.6},{"d":9,"r":45,"p":0.7},{"d":9,"r":44,"p":0.9},{"d":9,"r":43,"p":0.8},{"d":9,"r":42,"p":0.6},{"d":9,"r":41,"p":0.9},{"d":9,"r":40,"p":0.7},{"d":9,"r":39,"p":0.8},{"d":9,"r":38,"p":0.1},{"d":9,"r":37,"p":0.3},{"d":9,"r":36,"p":0.6},{"d":9,"r":35,"p":1.5},{"d":9,"r":34,"p":0.7},{"d":9,"r":33,"p":0.2},{"d":9,"r":32,"p":0.8},{"d":9,"r":31,"p":0.5},{"d":9,"r":30,"p":0.9},{"d":9,"r":29,"p":0.3},{"d":9,"r":28,"p":0.7},{"d":9,"r":27,"p":0.6},{"d":9,"r":26,"p":0.2},{"d":9,"r":25,"p":0.8},{"d":9,"r":24,"p":0.5},{"d":9,"r":23,"p":0.7},{"d":9,"r":22,"p":0.3},{"d":9,"r":21,"p":0.6},{"d":9,"r":20,"p":0.4},{"d":9,"r":19,"p":0.7},{"d":9,"r":18,"p":0.2},{"d":9,"r":17,"p":0.6},{"d":9,"r":16,"p":0.8},{"d":9,"r":15,"p":0.3},{"d":9,"r":14,"p":0.7},{"d":9,"r":13,"p":0.5},{"d":9,"r":12,"p":0.2},{"d":9,"r":11,"p":0.6},{"d":9,"r":10,"p":0.8},{"d":9,"r":9,"p":0.4},{"d":9,"r":8,"p":0.7},{"d":9,"r":7,"p":0.5},{"d":9,"r":6,"p":0.6},{"d":9,"r":5,"p":0.5},{"d":9,"r":4,"p":0.7},{"d":9,"r":3,"p":0.3},{"d":9,"r":2,"p":0.6},{"d":9,"r":1,"p":0.8},{"d":9,"r":0,"p":0.4}
          ]},
          "mark": {"type": "rect"},
          "encoding": {
            "x": {"field": "d", "type": "ordinal", "scale": {"domain": [4, 5, 6, 7, 8, 9], "padding": 0}, "axis": null},
            "y": {
              "field": "r", "type": "ordinal",
              "scale": {"domain": [59,58,57,56,55,54,53,52,51,50,49,48,47,46,45,44,43,42,41,40,39,38,37,36,35,34,33,32,31,30,29,28,27,26,25,24,23,22,21,20,19,18,17,16,15,14,13,12,11,10,9,8,7,6,5,4,3,2,1,0], "padding": 0},
              "axis": {"orient": "right", "values": [54, 44, 34, 24, 14, 4], "labelExpr": "datum.value == 54 ? '2610' : datum.value == 44 ? '2380' : datum.value == 34 ? '2110' : datum.value == 24 ? '2000' : datum.value == 14 ? '1820' : '1600'", "title": "Elevation, m", "titleAngle": 270, "titleBaseline": "top", "grid": false}
            },
            "color": {
              "field": "p", "type": "quantitative",
              "scale": {"type": "linear", "domain": [0, 0.25, 0.5, 0.75, 1, 1.25, 1.5, 1.75, 2], "range": ["#f7fbff", "#deebf7", "#c6dbef", "#9ecae1", "#6baed6", "#4292c6", "#2171b5", "#08519c", "#08306b"], "interpolate": "rgb"},
              "legend": {
                "orient": "none", "legendX": -98, "legendY": 19, "direction": "vertical", "padding": 0,
                "title": "cm d⁻¹", "titleOrient": "left", "titleAnchor": "middle", "titlePadding": 10,
                "gradientLength": 170, "gradientThickness": 12, "gradientStrokeColor": "black", "gradientStrokeWidth": 1.5,
                "values": [0, 1, 2], "labelOffset": 16, "labelFontSize": 21.5,
                "encode": {"labels": {"update": {"baseline": {"value": "middle"}}}}
              }
            }
          }
        },
        {
          "data": {"values": [{"t": "f. Total P on snowfall days"}]},
          "mark": {"type": "text", "align": "left", "baseline": "alphabetic", "dx": -23},
          "encoding": {
            "x": {"datum": 4, "type": "ordinal", "scale": {"domain": [4, 5, 6, 7, 8, 9], "padding": 0}, "axis": null},
            "y": {"datum": 49, "type": "ordinal", "scale": {"domain": [59,58,57,56,55,54,53,52,51,50,49,48,47,46,45,44,43,42,41,40,39,38,37,36,35,34,33,32,31,30,29,28,27,26,25,24,23,22,21,20,19,18,17,16,15,14,13,12,11,10,9,8,7,6,5,4,3,2,1,0], "padding": 0}},
            "text": {"field": "t"}
          }
        }
      ]
    },
    {
      "width": 425, "height": 196,
      "layer": [
        {
          "data": {"values": [
            {"d0": 4, "d1": 5, "r0": 0, "r1": 60, "p": 0}, {"d0": 5, "d1": 6, "r0": 0, "r1": 60, "p": 0}, {"d0": 6, "d1": 7, "r0": 0, "r1": 60, "p": 0},
            {"d0": 7, "d1": 8, "r0": 0, "r1": 60, "p": 0}, {"d0": 8, "d1": 9, "r0": 0, "r1": 60, "p": 0}, {"d0": 9, "d1": 10, "r0": 0, "r1": 60, "p": 0}
          ]},
          "transform": [{"filter": "datum.p > 0"}],
          "mark": {"type": "rect"},
          "encoding": {
            "x": {"field": "d0", "type": "quantitative", "scale": {"domain": [4, 10], "nice": false, "zero": false}, "axis": {"values": [4, 5, 6, 7, 8, 9, 10], "labelFlush": false, "title": "Day of month, Jan. 2016", "titlePadding": 6, "grid": true}},
            "x2": {"field": "d1"},
            "y": {"field": "r0", "type": "quantitative", "scale": {"domain": [0, 60], "nice": false, "zero": false}, "axis": {"orient": "right", "values": [4.5, 14.5, 24.5, 34.5, 44.5, 54.5], "labelExpr": "datum.value == 54.5 ? '2610' : datum.value == 44.5 ? '2380' : datum.value == 34.5 ? '2110' : datum.value == 24.5 ? '2000' : datum.value == 14.5 ? '1820' : '1600'", "title": "Elevation, m", "titleAngle": 270, "titleBaseline": "top", "grid": false}},
            "y2": {"field": "r1"},
            "color": {
              "field": "p", "type": "quantitative",
              "scale": {"type": "linear", "domain": [0, 0.125, 0.25, 0.375, 0.5, 0.625, 0.75, 0.875, 1], "range": ["#fff5f0", "#fee0d2", "#fcbba1", "#fc9272", "#fb6a4a", "#ef3b2c", "#cb181d", "#a50f15", "#67000d"], "interpolate": "rgb"},
              "legend": {
                "orient": "none", "legendX": -98, "legendY": 19, "direction": "vertical", "padding": 0,
                "title": "cm d⁻¹", "titleOrient": "left", "titleAnchor": "middle", "titlePadding": 10,
                "gradientLength": 170, "gradientThickness": 12, "gradientStrokeColor": "black", "gradientStrokeWidth": 1.5,
                "values": [0, 0.5, 1], "format": ".1f", "labelOffset": 16, "labelFontSize": 21.5,
                "encode": {"labels": {"update": {"baseline": {"value": "middle"}}}}
              }
            }
          }
        },
        {
          "data": {"values": [{"t": "g. Total P on rainfall days"}]},
          "mark": {"type": "text", "align": "left", "baseline": "alphabetic"},
          "encoding": {
            "x": {"datum": 4.28, "type": "quantitative", "scale": {"domain": [4, 10], "nice": false, "zero": false}, "axis": {"values": [4, 5, 6, 7, 8, 9, 10], "labelFlush": false, "title": "Day of month, Jan. 2016", "titlePadding": 6, "grid": true}},
            "y": {"datum": 46.7, "type": "quantitative", "scale": {"domain": [0, 60], "nice": false, "zero": false}, "axis": {"orient": "right", "values": [4.5, 14.5, 24.5, 34.5, 44.5, 54.5], "labelExpr": "datum.value == 54.5 ? '2610' : datum.value == 44.5 ? '2380' : datum.value == 34.5 ? '2110' : datum.value == 24.5 ? '2000' : datum.value == 14.5 ? '1820' : '1600'", "title": "Elevation, m", "titleAngle": 270, "titleBaseline": "top", "grid": false}},
            "text": {"field": "t"}
          }
        }
      ]
    }
  ]
}
